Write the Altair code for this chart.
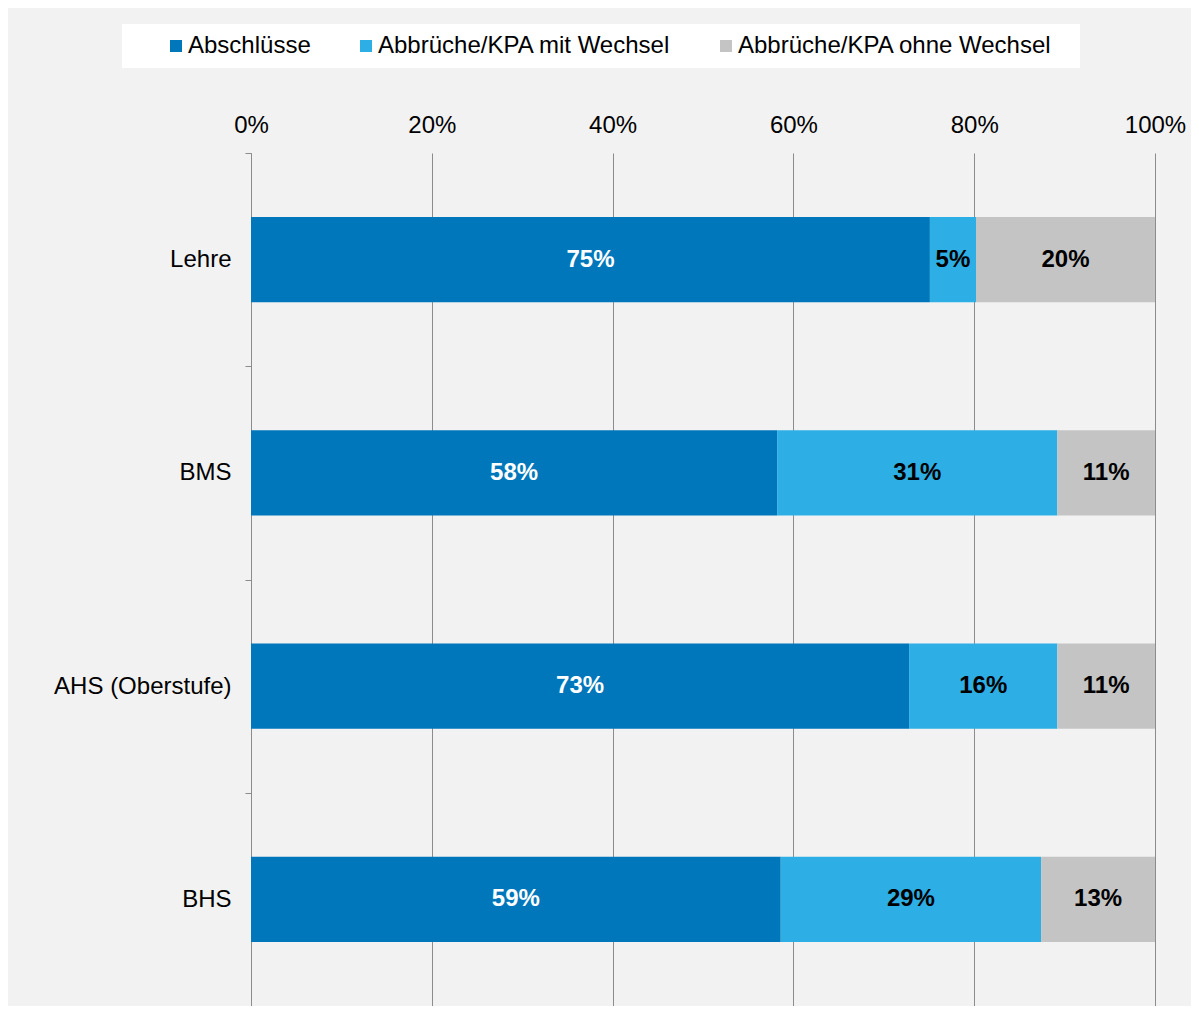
import altair as alt
import pandas as pd

categories = ["Lehre", "BMS", "AHS (Oberstufe)", "BHS"]
series = ["Abschlüsse", "Abbrüche/KPA mit Wechsel", "Abbrüche/KPA ohne Wechsel"]
abschluesse = [75.1, 58.2, 72.8, 58.6]
mit_wechsel = [5.1, 31.0, 16.4, 28.8]
ohne_wechsel = [19.8, 10.8, 10.8, 12.6]
tick_values = [0, 0.2, 0.4, 0.6, 0.8, 1.0]
colors = ["#0077BB", "#2DAEE5", "#C4C4C4"]

rows = []
for i, cat in enumerate(categories):
    vals = [abschluesse[i], mit_wechsel[i], ohne_wechsel[i]]
    total = sum(vals)
    cum = 0.0
    for j, s in enumerate(series):
        frac = vals[j] / total
        rows.append(dict(category=cat, series=s, order=j, value=vals[j] / 100,
                         start=cum, end=cum + frac, mid=cum + frac / 2))
        cum += frac
df = pd.DataFrame(rows)

font = "Liberation Sans"
grid_gray = "#8c8c8c"
FS = 24
blank = "\u2800"

y_enc = alt.Y(
    "category:N", sort=categories, title=None,
    scale=alt.Scale(paddingInner=0, paddingOuter=0),
    axis=alt.Axis(domain=True, domainColor=grid_gray, domainWidth=1,
                  ticks=True, tickBand="extent", tickSize=6, tickColor=grid_gray,
                  labelFont=font, labelFontSize=FS, labelColor="black",
                  labelPadding=14, grid=False, labelLimit=400),
)

x_enc = alt.X(
    "start:Q", title=None,
    scale=alt.Scale(domain=[0, 1], nice=False, zero=True),
    axis=alt.Axis(orient="top", format=".0%", values=tick_values, domain=False,
                  ticks=False, grid=True, gridColor=grid_gray, gridWidth=1,
                  labelFont=font, labelFontSize=FS, labelColor="black",
                  labelPadding=16, labelFlush=False),
)

last_label = series[-1]
bars = alt.Chart(df).mark_bar(strokeWidth=0, height=alt.RelativeBandSize(band=0.4)).encode(
    y=y_enc,
    x=x_enc,
    x2="end:Q",
    color=alt.Color(
        "series:N",
        scale=alt.Scale(domain=series, range=colors),
        legend=alt.Legend(
            title=blank * 2, titleOrient="left", titleFontSize=18, titlePadding=6,
            orient="none", legendX=-129, legendY=-129, direction="horizontal",
            fillColor="white", padding=10, symbolType="square", symbolSize=144,
            symbolStrokeWidth=0, labelFont=font, labelFontSize=FS,
            labelColor="black", labelOffset=0, columnPadding=43, labelLimit=700,
            labelExpr=f"datum.label == '{last_label}' ? datum.label + '{blank}' : datum.label",
        ),
    ),
)

text = alt.Chart(df).mark_text(font=font, fontSize=FS, fontWeight="bold").encode(
    y=alt.Y("category:N", sort=categories),
    x=alt.X("mid:Q"),
    text=alt.Text("value:Q", format=".0%"),
    color=alt.condition(alt.datum.order == 0, alt.value("white"), alt.value("black")),
)

chart = alt.layer(bars, text).properties(
    width=904, height=853,
    padding={"left": 243, "top": 145, "right": 36, "bottom": 0},
    autosize=alt.AutoSizeParams(type="none"),
    background="#f2f2f2",
).configure_view(stroke=None)

chart.save("out.html", embed_options={"renderer": "svg", "actions": False})
